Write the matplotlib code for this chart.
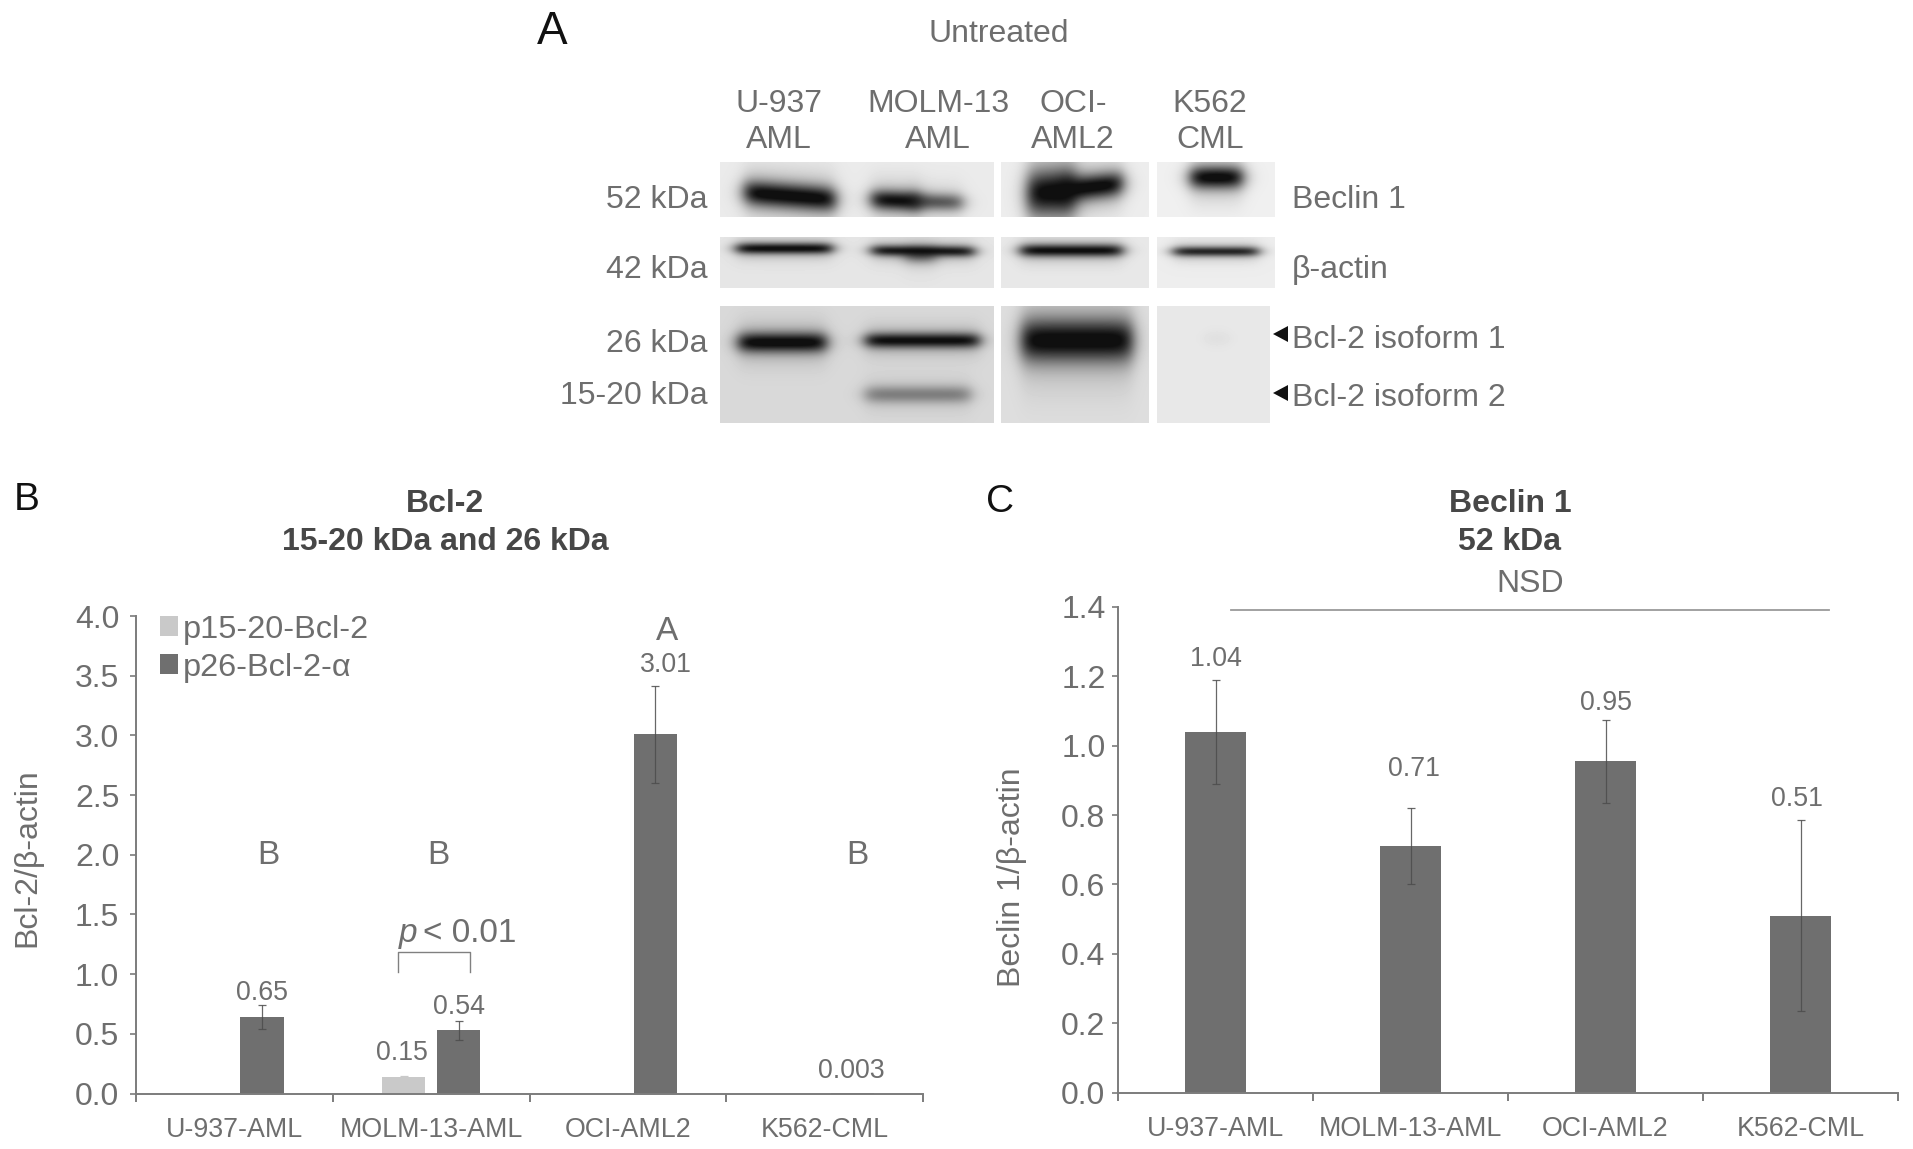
import numpy as np
import matplotlib
matplotlib.use("Agg")
import matplotlib.pyplot as plt
from matplotlib.lines import Line2D
from matplotlib.patches import Polygon

W, H = 1913, 1149
plt.rcParams['font.family'] = ['Liberation Sans', 'DejaVu Sans']

# ---- data ----
cell_lines = ['U-937-AML', 'MOLM-13-AML', 'OCI-AML2', 'K562-CML']
bcl2_p15 = [np.nan, 0.135, np.nan, np.nan]
bcl2_p15_err = [np.nan, 0.01, np.nan, np.nan]
bcl2_p26 = [0.64, 0.53, 3.01, 0.003]
bcl2_p26_err = [0.10, 0.08, 0.405, np.nan]
bcl2_yticks = [0.0, 0.5, 1.0, 1.5, 2.0, 2.5, 3.0, 3.5, 4.0]
beclin = [1.04, 0.71, 0.955, 0.51]
beclin_err = [0.15, 0.11, 0.12, 0.275]
beclin_yticks = [0.0, 0.2, 0.4, 0.6, 0.8, 1.0, 1.2, 1.4]

# western blot gels: (x0, x1, y0, y1, background grey)
gels = [
    (720, 994, 162, 217, 0.92), (1001, 1149, 162, 217, 0.93), (1157, 1275, 162, 217, 0.94),
    (720, 994, 237, 288, 0.90), (1001, 1149, 237, 288, 0.91), (1157, 1275, 237, 288, 0.93),
    (720, 994, 306, 423, 0.85), (1001, 1149, 306, 423, 0.87), (1157, 1270, 306, 423, 0.91),
]
# western blot bands: (x0, x1, y centre left, y centre right, half thickness, darkness)
bands = [
    (744, 835, 192, 199, 10, 1.0), (871, 920, 199, 201, 8, 0.95), (910, 962, 201, 202, 7, 0.62),
    (1027, 1075, 193, 191, 18, 1.0), (1060, 1122, 190, 183, 10, 1.0), (1190, 1242, 177, 177, 9, 1.0),
    (736, 832, 248, 248, 4.5, 0.95), (871, 974, 250, 251, 4.5, 0.9), (905, 935, 255, 255, 6, 0.5),
    (1020, 1122, 250, 250, 5, 0.95), (1173, 1258, 251, 251, 4, 0.85),
    (738, 826, 342, 342, 8, 1.0), (865, 979, 340, 340, 6, 0.95), (1021, 1132, 340, 340, 17, 1.0),
    (1205, 1228, 338, 338, 6, 0.04), (865, 970, 394, 394, 7, 0.42),
]

GREY = '#6e6e6e'
BAR = '#6f6f6f'
LIGHT = '#c9c9c9'
AXC = '#7c7c7c'
ERR = '#4c4c4c'

fig = plt.figure(figsize=(W / 100, H / 100), dpi=100, facecolor='white')


def fx(x):
    return x / W


def fy(y):
    return 1 - y / H


def label(x, y, s, size=23, color=GREY, ha='center', va='center', **kw):
    return fig.text(fx(x), fy(y + 2.5), s, fontsize=size, color=color, ha=ha, va=va, **kw)


# ---- panel A: blots drawn as an image on a full-figure axes ----
bg = fig.add_axes([0, 0, 1, 1], zorder=0)
canvas = np.ones((H, W))
yy, xx = np.mgrid[0:H, 0:W]
for x0, x1, y0, y1, g in gels:
    mask = (xx >= x0) & (xx < x1) & (yy >= y0) & (yy < y1)
    canvas[mask] = g
    shade = np.ones((H, W))
    for bx0, bx1, yl, yr, th, d in bands:
        if x0 <= (bx0 + bx1) / 2 < x1 and y0 <= (yl + yr) / 2 < y1:
            sx = 0.5 * (np.tanh((xx - bx0) / 9) - np.tanh((xx - bx1) / 9))
            t = np.clip((xx - bx0) / (bx1 - bx0), 0, 1)
            yc = yl + (yr - yl) * t
            sy = np.exp(-np.abs((yy - yc) / (th * 1.2)) ** 2.0)
            halo = 0.22 * np.exp(-np.abs((yy - yc) / (th * 2.6)) ** 2)
            shade *= 1 - np.clip(d * sx * (sy + halo * (1 - sy)), 0, 1)
    canvas[mask] = (canvas * shade)[mask]
canvas = np.clip(canvas, 0.06, 1)
bg.imshow(canvas, cmap='gray', vmin=0, vmax=1, extent=(0, W, H, 0), aspect='auto',
          interpolation='bilinear')
bg.set_xlim(0, W)
bg.set_ylim(H, 0)
bg.axis('off')

label(552, 29, 'A', size=33, color='#111111')
label(999, 32, 'Untreated')
for x, top, bottom in [(779, 'U-937', 'AML'), (938, 'MOLM-13', 'AML'),
                       (1073, 'OCI-', 'AML2'), (1210, 'K562', 'CML')]:
    label(x, 102, top)
    label(x, 138, bottom)
for y, s in [(197, '52 kDa'), (268, '42 kDa'), (341, '26 kDa'), (393, '15-20 kDa')]:
    label(708, y, s, ha='right')
for y, s in [(198, 'Beclin 1'), (268, 'β-actin'), (338, 'Bcl-2 isoform 1'), (396, 'Bcl-2 isoform 2')]:
    label(1292, y, s, ha='left')
for yc in (334, 393):
    bg.add_patch(Polygon([(1288, yc - 8), (1288, yc + 8), (1273, yc)], closed=True,
                         color='#111111', lw=0))


# ---- panels B and C ----
def make_axes(left, right, top, bottom):
    ax = fig.add_axes([fx(left), fy(bottom), (right - left) / W, (bottom - top) / H], zorder=1)
    ax.patch.set_alpha(0)
    for side in ('top', 'right'):
        ax.spines[side].set_visible(False)
    for side in ('left', 'bottom'):
        ax.spines[side].set_color(AXC)
        ax.spines[side].set_linewidth(1.4)
    ax.set_xlim(-0.5, 3.5)
    ax.set_xticks([-0.5, 0.5, 1.5, 2.5, 3.5])
    ax.set_xticklabels([])
    ax.set_xticks(range(4), minor=True)
    ax.set_xticklabels(cell_lines, minor=True, fontsize=19.3, color=GREY)
    ax.tick_params(axis='x', which='major', length=6, width=1.4, color=AXC)
    ax.tick_params(axis='x', which='minor', length=0, pad=17)
    return ax


x = np.arange(4)
err_kw = dict(ecolor=ERR, elinewidth=0.9, capsize=3, capthick=0.9, alpha=0.85)

axb = make_axes(136, 923, 616, 1093.5)
b1 = axb.bar(x - 0.14, bcl2_p15, 0.22, color=LIGHT, yerr=bcl2_p15_err,
             error_kw=dict(ecolor=LIGHT, elinewidth=0.9, capsize=3, capthick=0.9))
b2 = axb.bar(x + 0.14, bcl2_p26, 0.22, color=BAR, yerr=bcl2_p26_err, error_kw=err_kw)
axb.set_ylim(0, 4)
axb.set_yticks(bcl2_yticks)
axb.set_yticklabels([f'{v:.1f}' for v in bcl2_yticks], fontsize=23, color=GREY)
axb.tick_params(axis='y', length=4, width=1.2, color=AXC, pad=8)
axb.legend([b1, b2], ['p15-20-Bcl-2', 'p26-Bcl-2-α'], loc='upper left',
           bbox_to_anchor=(0.031, 1.003), frameon=False, fontsize=23.4, labelcolor=GREY,
           handlelength=0.55, handleheight=0.55, handletextpad=0.13, labelspacing=0.25,
           borderpad=0, borderaxespad=0)

axc = make_axes(1118, 1898, 607, 1092.5)
axc.bar(x, beclin, 0.31, color=BAR, yerr=beclin_err, error_kw=err_kw)
axc.set_ylim(0, 1.4)
axc.set_yticks(beclin_yticks)
axc.set_yticklabels([f'{v:.1f}' for v in beclin_yticks], fontsize=23, color=GREY)
axc.tick_params(axis='y', length=4, width=1.2, color=AXC, pad=5)

# panel B annotations
label(27, 498, 'B', size=28, color='#111111')
label(445, 501, 'Bcl-2', weight='bold', color='#474747')
label(445, 539, '15-20 kDa and 26 kDa', weight='bold', color='#474747')
label(27, 855, 'Bcl-2/β-actin', rotation=90)
for xp, yp, s in [(262, 991, '0.65'), (459, 1005, '0.54'), (402, 1050, '0.15'),
                  (666, 663, '3.01'), (851, 1068, '0.003')]:
    label(xp, yp, s, size=19.3)
label(667, 629, 'A', size=24)
for xp in (268, 438, 857):
    label(xp, 853, 'B', size=24)
label(399, 931, 'p', size=24, ha='left', style='italic')
label(423, 931, '< 0.01', size=24, ha='left')
fig.add_artist(Line2D([fx(398), fx(398), fx(470), fx(470)],
                      [fy(972), fy(952), fy(952), fy(972)], color='#808080', lw=1))

# panel C annotations
label(1000, 500, 'C', size=28, color='#111111')
label(1510, 501, 'Beclin 1', weight='bold', color='#474747')
label(1510, 539, '52 kDa', weight='bold', color='#474747')
label(1530, 582, 'NSD')
fig.add_artist(Line2D([fx(1231), fx(1829)], [fy(610), fy(610)], color='#9a9a9a', lw=1.3))
label(1012, 875, 'Beclin 1/β-actin', rotation=90)
for xp, yp, s in [(1216, 656, '1.04'), (1414, 767, '0.71'), (1606, 700, '0.95'), (1797, 797, '0.51')]:
    label(xp, yp, s, size=19.3)

fig.savefig('out.png', dpi=100, facecolor='white')
